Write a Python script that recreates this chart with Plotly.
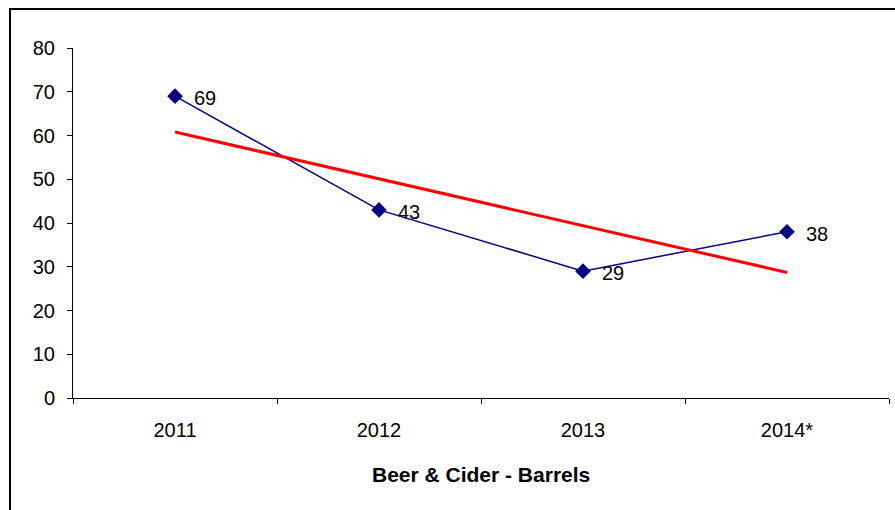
import numpy as np
import plotly.graph_objects as go

# Beer & cider volumes by year (barrels)
years = ["2011", "2012", "2013", "2014*"]
barrels = [69, 43, 29, 38]

# Linear trend across the four years
xs = np.arange(1, len(barrels) + 1)
slope, intercept = np.polyfit(xs, barrels, 1)
trend = list(slope * xs + intercept)

W, H = 895, 510
L, R, T, B = 73, 6, 48, 112
pw, ph = W - L - R, H - T - B
FONT = "Liberation Sans, Arial"

fig = go.Figure()

fig.add_trace(go.Scatter(
    x=years, y=barrels,
    mode="lines+markers",
    line=dict(color="#000080", width=1.5),
    marker=dict(symbol="diamond", size=12, color="#000080"),
    showlegend=False,
))

fig.add_trace(go.Scatter(
    x=years, y=trend,
    mode="lines",
    line=dict(color="#FF0000", width=3),
    showlegend=False,
))

# Value labels beside each point (x given as category index)
for i, v in enumerate(barrels):
    fig.add_annotation(
        x=i, y=v, text=str(v), showarrow=False,
        xanchor="left", yanchor="middle", xshift=17, yshift=-2,
        font=dict(family=FONT, size=20, color="black"),
    )

# Outer chart frame
fig.add_shape(
    type="rect", xref="paper", yref="paper",
    x0=(10 - L) / pw, x1=1.2, y0=-0.6, y1=1 + (T - 9) / ph,
    line=dict(color="black", width=2), layer="below",
)

fig.add_annotation(
    text="<b>Beer & Cider - Barrels</b>",
    xref="paper", yref="paper", x=0.5, y=-(474 - 398) / ph,
    xanchor="center", yanchor="middle", showarrow=False,
    font=dict(family=FONT, size=21, color="black"),
)

fig.update_xaxes(
    type="category", range=[-0.5, 3.5],
    showline=True, linecolor="black", linewidth=1,
    ticks="outside", tickson="boundaries", ticklen=5, tickcolor="black",
    showgrid=False, zeroline=False, ticklabelstandoff=14,
    tickfont=dict(family=FONT, size=20, color="black"),
)
fig.update_yaxes(
    range=[0, 80], dtick=10,
    showline=True, linecolor="black", linewidth=1,
    ticks="outside", ticklen=5, tickcolor="black",
    showgrid=False, zeroline=False, ticklabelstandoff=8,
    tickfont=dict(family=FONT, size=20, color="black"),
)

fig.update_layout(
    width=W, height=H,
    margin=dict(l=L, r=R, t=T, b=B),
    plot_bgcolor="white", paper_bgcolor="white",
)

fig.write_html("out.html")
